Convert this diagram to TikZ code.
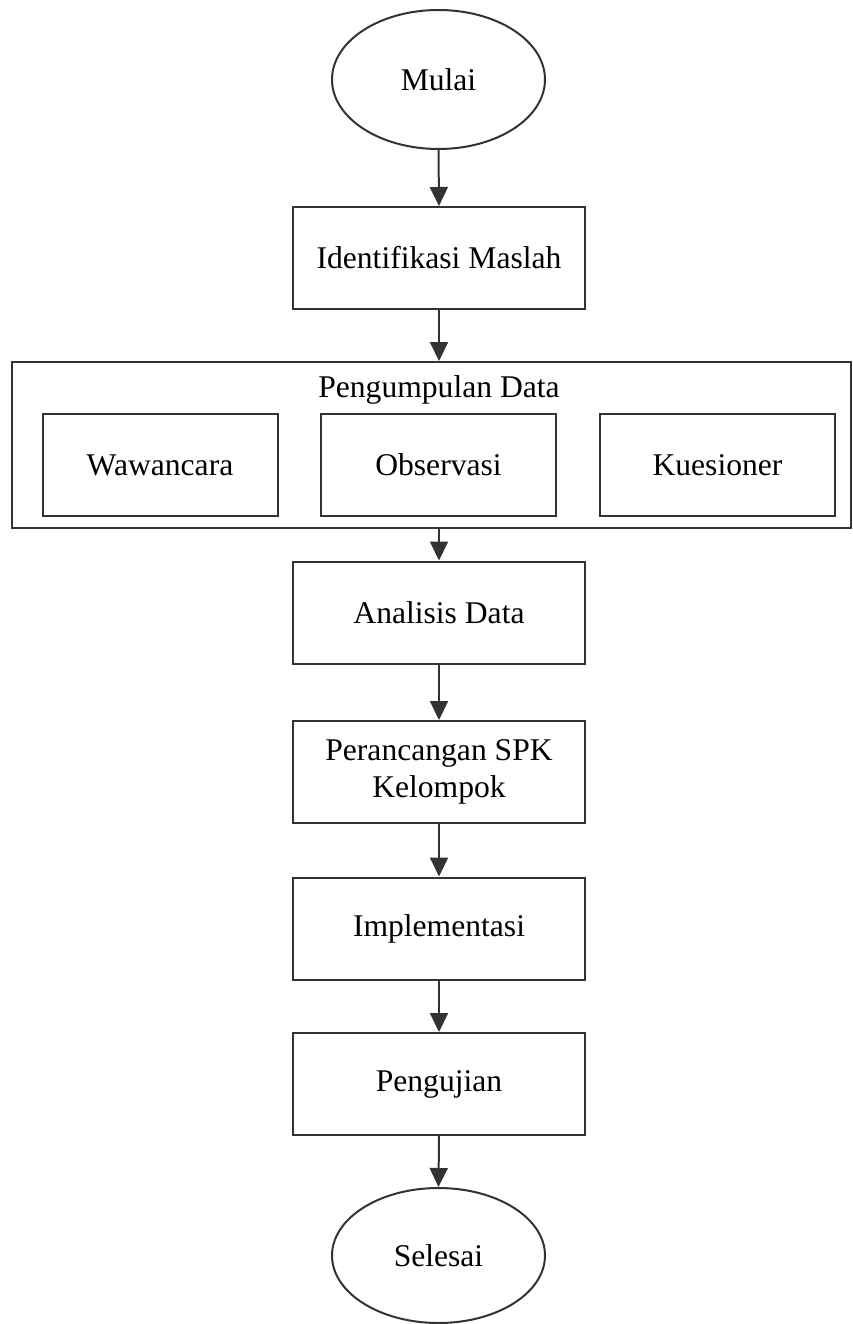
\documentclass[tikz,border=0pt]{standalone}
\usepackage{fontspec}
\setmainfont{Liberation Serif}
\usetikzlibrary{shapes.geometric,arrows.meta}
\begin{document}
\begin{tikzpicture}[x=1pt,y=-1pt,
  every node/.style={font=\fontsize{31.6}{37}\selectfont, text=black},
  line/.style={draw=black!80, line width=2pt},
  term/.style={line, ellipse, minimum width=213pt, minimum height=139pt, inner sep=0pt},
  proc/.style={line, rectangle, minimum width=292pt, minimum height=102pt, inner sep=0pt, align=center},
  sub/.style={line, rectangle, minimum width=235pt, minimum height=102pt, inner sep=0pt},
  flow/.style={line, -{Triangle[length=19pt,width=18pt]}}]
\useasboundingbox (0,0) rectangle (853,1324);
\node[term] (mulai) at (438.5,79.5) {Mulai};
\node[proc] (idm) at (439,258) {Identifikasi Maslah};
\node[line, rectangle, minimum width=839pt, minimum height=166pt, inner sep=0pt] (pd) at (431.5,445) {};
\node[anchor=base] (pdt) at (439,397) {Pengumpulan Data};
\node[sub] (waw) at (160,465) {Wawancara};
\node[sub] (obs) at (438.5,465) {Observasi};
\node[sub] (kue) at (717.5,465) {Kuesioner};
\node[proc] (ana) at (439,612.5) {Analisis Data};
\node[proc] (per) at (439,772) {Perancangan SPK\\Kelompok};
\node[proc] (imp) at (439,928.5) {Implementasi};
\node[proc] (uji) at (439,1084) {Pengujian};
\node[term, minimum height=135pt] (sel) at (438.5,1255.5) {Selesai};
\draw[flow] (mulai.south) -- (idm.north);
\draw[flow] (idm.south) -- (idm.south |- pd.north);
\draw[flow] (pd.south -| ana.north) -- (ana.north);
\draw[flow] (ana.south) -- (per.north);
\draw[flow] (per.south) -- (imp.north);
\draw[flow] (imp.south) -- (uji.north);
\draw[flow] (uji.south) -- (sel.north);
\end{tikzpicture}
\end{document}
